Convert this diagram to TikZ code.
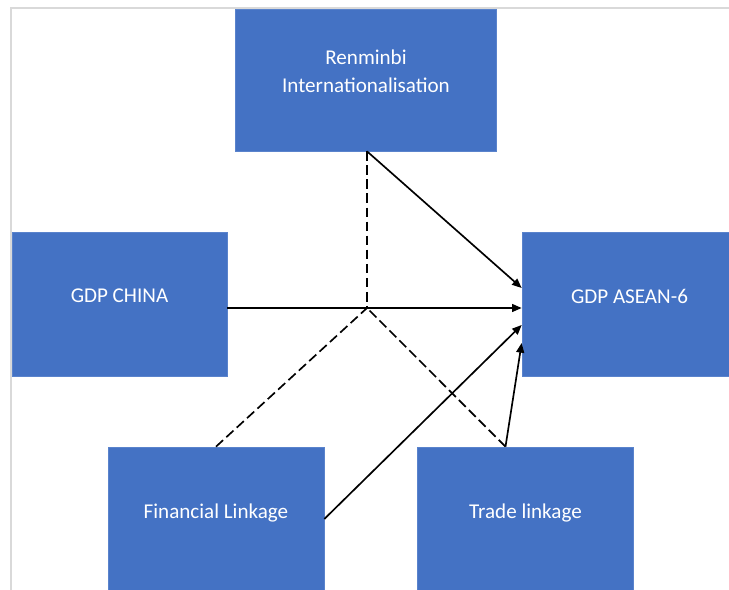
\documentclass[tikz,border=0pt]{standalone}
\usepackage{fontspec}
\setmainfont{Carlito}
\usetikzlibrary{arrows.meta,calc}
\definecolor{boxblue}{HTML}{4472C4}
\definecolor{boxedge}{HTML}{5A83CC}
\definecolor{framegray}{HTML}{D9D9D9}
\begin{document}
\begin{tikzpicture}[x=0.02cm,y=0.02cm,
	box/.style={rectangle,fill=boxblue,draw=boxedge,line width=0.4pt,text=white,
		font=\fontsize{12}{15.9}\selectfont,align=center,text depth=9pt,
		minimum width=4.3cm,minimum height=2.88cm,inner sep=0pt},
	link/.style={line width=0.95pt,black},
	tip/.style={link,-{Triangle[length=5.5pt,width=4.5pt]}},
	mod/.style={link,dash pattern=on 5.5pt off 2.5pt}]
	\clip (0,0) rectangle (729,590);
	\fill[white] (0,0) rectangle (729,590);
	\draw[framegray,line width=0.6pt] (11,-10) -- (11,582) -- (740,582);

	\node at (366,510) [box,minimum width=5.22cm,minimum height=2.84cm,text depth=10pt] (rmb) {Renminbi\\Internationalisation};
	\node at (119.5,286) [box] (china) {GDP CHINA};
	\node at (629.5,286) [box] (asean) {GDP ASEAN-6};
	\node at (216,71) [box,minimum width=4.32cm] (fin) {Financial Linkage};
	\node at (525.5,71) [box,minimum width=4.32cm] (trade) {Trade linkage};

	\coordinate (j) at (367,282);
	\coordinate (r) at (rmb.south -| j);
	\coordinate (t) at ($(trade.north)+(-20,0)$);

	\draw[mod] (r) -- (j);
	\draw[mod] (fin.north) -- (j);
	\draw[mod] (t) -- (j);

	\draw[tip] (r) -- ($(asean.west)+(0,16)$);
	\draw[tip] (china.east |- j) -- (asean.west |- j);
	\draw[tip] (fin.east) -- ($(asean.west)+(0,-21)$);
	\draw[tip] (t) -- ($(asean.west)+(0,-39)$);
\end{tikzpicture}
\end{document}
